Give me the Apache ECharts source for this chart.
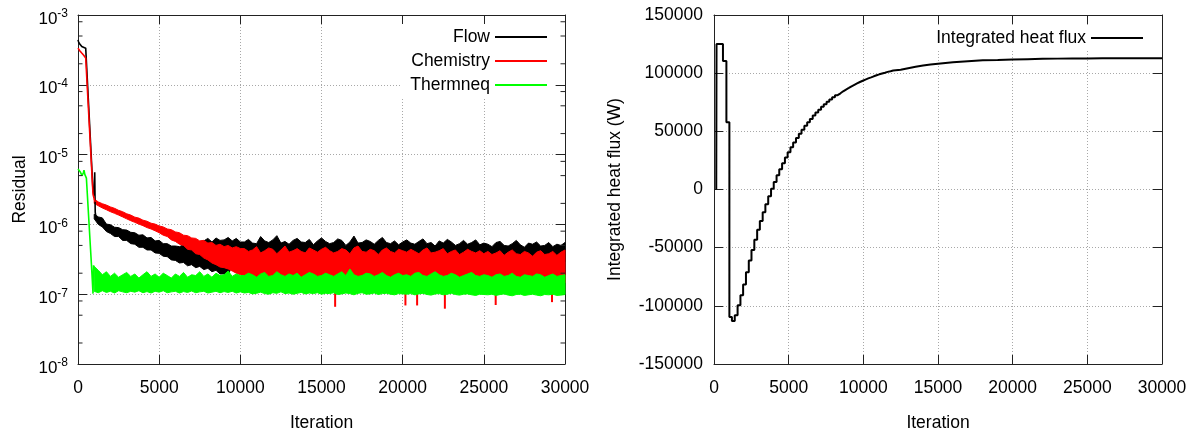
<!DOCTYPE html>
<html><head><meta charset="utf-8">
<script src="https://cdn.jsdelivr.net/npm/echarts@6/dist/echarts.min.js"></script>
<style>html,body{margin:0;padding:0;background:#fff}#c{width:1195px;height:437px}</style>
</head><body><div id="c"></div>
<script>
// ---------- data (residual values in units of 1e-7) ----------
const UNIT = 1e-7;
const bandIter = [1000,1250,1500,1750,2000,2250,2500,2750,3000,3250,3500,3750,4000,4250,4500,4750,5000,5250,5500,5750,6000,6250,6500,6750,7000,7250,7500,7750,8000,8250,8500,8750,9000,9250,9500,9750,10000,10250,10500,10750,11000,11250,11500,11750,12000,12250,12500,12750,13000,13250,13500,13750,14000,14250,14500,14750,15000,15250,15500,15750,16000,16250,16500,16750,17000,17250,17500,17750,18000,18250,18500,18750,19000,19250,19500,19750,20000,20250,20500,20750,21000,21250,21500,21750,22000,22250,22500,22750,23000,23250,23500,23750,24000,24250,24500,24750,25000,25250,25500,25750,26000,26250,26500,26750,27000,27250,27500,27750,28000,28250,28500,28750,29000,29250,29500,29750,30000];

const flowHi = [14,12.8,12.4,10.1,9.9,9.1,9.0,8.4,8.3,7.7,7.6,7.0,7.1,6.4,6.5,5.8,5.9,5.3,5.3,4.9,4.9,4.8,5.1,5.2,5.4,5.5,5.7,5.8,6.3,5.6,6.4,5.9,6.0,6.5,5.8,6.3,5.6,
 5.6,6.1,5.4,5.3,6.7,5.8,5.5,6.0,6.9,5.4,5.7,5.2,5.9,6.3,5.6,5.5,6.1,5.1,5.8,6.4,
 5.7,5.3,5.5,6.2,5.9,5.0,5.6,6.8,5.4,5.5,6.0,5.7,5.2,5.9,6.5,5.5,5.3,5.8,5.1,5.6,
 6.0,5.4,5.2,5.7,6.2,5.3,5.5,4.9,5.8,5.4,6.1,5.6,5.0,5.3,5.9,5.2,5.5,6.0,5.1,5.4,
 5.2,4.8,5.5,5.7,5.0,4.9,5.3,5.9,5.1,4.7,5.4,5.2,5.6,4.9,5.0,5.5,4.8,5.2,5.0,5.5];
const flowLo = [12,10.0,9.2,7.9,7.4,6.7,6.7,5.9,5.9,5.3,5.2,4.7,4.7,4.3,4.3,3.9,3.85,3.5,3.45,3.1,3.05,2.8,2.85,2.55,2.65,2.4,2.5,2.25,2.35,2.1,2.2,1.95,1.95,1.8,2.8,3.0,3.0,
 3.0,2.9,3.1,3.0,2.9,3.0,2.9,3.1,3.0,2.9,3.0,2.9,3.1,3.0,2.9,3.0,2.9,3.1,3.0,2.9,
 3.0,2.9,3.1,3.0,2.9,3.0,2.9,3.1,3.0,2.9,3.0,2.9,3.1,3.0,2.9,3.0,2.9,3.1,3.0,2.9,
 3.0,2.9,3.1,3.0,2.9,3.0,2.9,3.1,3.0,2.9,3.0,2.9,3.1,3.0,2.9,3.0,2.9,3.1,3.0,2.9,
 3.0,2.9,3.1,3.0,2.9,3.0,2.9,3.1,3.0,2.9,3.0,2.9,3.1,3.0,2.9,3.0,2.9,3.1,3.0,2.9];

const chemHi = [23,21,19.8,18.9,17.8,17.0,15.9,15.2,14.2,13.6,12.7,12.3,11.5,11.1,10.4,10.1,9.5,9.2,8.6,8.4,7.8,7.6,7.0,6.9,6.4,6.3,5.8,5.9,5.4,5.5,5.0,5.2,4.8,5.0,4.6,4.8,4.5,
 4.5,4.1,4.3,4.8,3.9,4.2,4.6,4.4,3.8,4.3,4.9,4.0,4.2,4.5,4.1,3.9,4.6,4.3,4.0,4.4,
 4.7,4.2,3.9,4.1,4.5,4.3,3.8,4.6,4.9,4.1,4.0,4.4,4.2,3.7,4.3,4.6,4.1,3.9,4.4,4.2,
 4.0,4.4,4.1,3.8,4.3,4.6,3.9,4.0,4.2,4.5,3.8,4.1,4.3,3.7,4.0,4.4,4.1,3.9,4.2,3.8,
 4.1,3.7,3.9,4.2,3.6,4.0,4.3,3.8,3.7,4.1,3.9,3.5,4.0,4.2,3.7,3.8,4.1,3.6,4.0,4.3];
const chemLo = [20,18.5,17.2,16.2,15.2,14.4,13.6,12.8,12.0,11.3,10.7,10.1,9.6,9.0,8.6,8.1,
 7.6,7.0,6.7,6.0,5.7,5.2,5.0,4.4,4.3,3.8,3.7,3.3,3.1,2.8,2.65,2.45,2.4,2.3,2.15,2.0,1.9,
 1.8,1.7,1.65,1.6,1.55,1.5,1.45,1.5,1.55,1.45,1.5,1.45,1.5,1.55,1.45,1.5,1.45,1.5,1.55,1.45,
 1.5,1.45,1.5,1.55,1.45,1.5,1.45,1.5,1.55,1.45,1.5,1.45,1.5,1.55,1.45,1.5,1.45,1.5,1.55,1.45,
 1.5,1.45,1.5,1.55,1.45,1.5,1.45,1.5,1.55,1.45,1.5,1.45,1.5,1.55,1.45,1.5,1.45,1.5,1.55,1.45,
 1.5,1.45,1.5,1.55,1.45,1.5,1.45,1.5,1.55,1.45,1.5,1.45,1.5,1.55,1.45,1.5,1.45,1.5,1.55,1.45];

const thermHi = [2.5,2.2,1.9,2.1,1.8,2.0,1.75,1.9,2.05,1.8,1.95,1.7,1.9,2.1,1.8,1.95,1.75,2.0,1.85,1.7,1.95,1.8,2.05,1.75,1.9,1.85,2.1,1.8,1.95,1.75,2.0,1.85,1.9,2.15,1.8,1.95,1.85,
 1.85,2.0,1.9,1.75,1.95,2.05,1.8,1.85,2.1,1.9,1.8,1.95,1.85,2.0,1.75,1.9,2.05,1.95,1.8,1.85,
 2.0,1.9,1.8,1.95,2.1,1.85,2.3,1.9,1.8,1.85,2.0,1.95,1.8,1.9,2.05,1.85,1.75,1.9,2.0,1.85,
 1.9,1.8,2.0,2.05,1.85,1.8,1.95,2.1,1.9,1.8,1.85,2.0,1.9,1.75,1.85,1.95,2.05,1.85,1.8,1.9,
 1.85,1.75,1.9,1.95,1.8,1.85,2.0,1.8,1.75,1.9,1.85,1.8,1.95,1.9,1.75,1.85,1.95,1.8,1.85,1.9];
const thermLo = [1.1,1.05,1.12,1.06,1.1,1.04,1.12,1.08,1.05,1.1,1.07,1.12,1.05,1.09,1.04,1.1,1.07,1.12,1.05,1.08,1.1,1.04,1.09,1.06,1.11,1.05,1.08,1.1,1.04,1.07,1.1,1.05,1.09,1.06,1.1,1.04,1.08,
 1.04,1.06,1.01,1.03,1.07,1.02,1.0,1.05,1.03,1.08,1.02,1.04,1.0,1.03,1.06,1.01,1.04,1.02,1.05,1.0,
 1.03,1.02,1.05,0.99,1.01,1.04,1.02,0.98,1.03,1.05,1.0,1.01,1.04,0.99,1.02,1.03,1.0,0.98,1.02,1.01,
 1.0,1.02,0.98,1.01,1.03,0.99,0.97,1.01,1.02,0.98,1.0,1.03,0.99,0.97,1.0,1.01,0.98,0.96,1.0,0.99,
 0.98,1.0,0.96,0.99,1.01,0.97,0.95,0.99,1.0,0.96,0.98,1.0,0.97,0.95,0.99,0.98,1.0,0.96,0.97,0.99];

// early (pre-noise) part of each residual
const flowEarlyIter = [0,40,120,230,350,475,925,1000,1030,1060,1100];
const flowEarlyVal  = [4400,4100,3800,3550,3450,3350,30,26,56,15,13];
const chemEarlyIter = [0,40,120,230,350,475,925,1000,1070];
const chemEarlyVal  = [3350,3250,3050,2850,2650,2420,27,23,21];
const thermEarlyIter = [0,60,130,250,330,370,420,517,830,880,925,960,1000];
const thermEarlyVal  = [62,60,57,50,55,60,52,46,2.6,1.6,1.02,2.6,2.2];
// isolated downward spikes of the Chemistry residual
const chemDipIter = [15840,20170,20890,22600,25730,29200];
const chemDipVal  = [0.66,0.69,0.69,0.62,0.70,0.77];

// minor ticks of the log axis
const residualMinorTicks = [2e-8,5e-8,8e-8,2e-7,5e-7,8e-7,2e-6,5e-6,8e-6,2e-5,5e-5,8e-5,2e-4,5e-4,8e-4];

// integrated heat flux (W)
const hfIter = [150,170,600,830,1030,1200,1390,1580,1770,1950,2140,2330,2510,2700,2890,3070,3260,3440,3630,3820,4000,4190,4370,4560,4750,4930,5120,5300,5490,5680,5860,6050,6240,6420,6610,6790,6980,7170,7350,7540,7720,7910,8100,8280,8470,8650,8840,9030,9210,9400,9580,9770,9960,10140,10330,10520,10700,10890,11070,11260,11450,11630,11820,12000,12500,13000,13500,14000,14500,15000,15500,16000,16500,17000,17500,18000,19000,20000,21000,22000,23000,24000,25000,26000,27000,28000,29000,30000];
const hfValue = [0,125000,110500,57900,-109700,-113000,-108000,-99500,-91000,-81700,-71100,-61100,-52100,-43200,-34700,-27100,-19500,-12600,-5800,700,6500,12200,17400,22600,27500,32000,36400,40300,44300,48000,51300,54700,57900,60700,63600,66100,68600,71100,73200,75400,77300,79300,81100,82700,84400,85900,87300,88700,90000,91200,92400,93500,94500,95500,96400,97300,98200,99000,99700,100400,101100,101700,102300,102900,104300,105500,106500,107400,108100,108800,109400,109900,110300,110700,111000,111300,111700,112000,112300,112500,112600,112700,112800,112800,112900,112900,112900,113000];

// ---------- chart ----------
const FONT = '"Liberation Sans", Arial, Helvetica, sans-serif';
const AX = '#222';
const C_FLOW = '#000000', C_CHEM = '#ff0000', C_THERM = '#00ff00';

function bandSeries(name, color, lo, hi) {
  return {
    type: 'custom', name: name, xAxisIndex: 0, yAxisIndex: 0, silent: true,
    itemStyle: { color: color },
    data: bandIter.map((x, i) => [x, lo[i] * UNIT, hi[i] * UNIT]),
    encode: { x: 0, y: [1, 2] },
    renderItem: function (params, api) {
      if (params.dataIndex !== 0) return null;
      const top = [], bot = [];
      for (let i = 0; i < bandIter.length; i++) {
        top.push(api.coord([bandIter[i], hi[i] * UNIT]));
        bot.push(api.coord([bandIter[i], lo[i] * UNIT]));
      }
      return { type: 'polygon', shape: { points: top.concat(bot.reverse()) },
               style: { fill: color, stroke: color, lineWidth: 1 } };
    }
  };
}
function earlyLine(name, color, it, val) {
  return { type: 'line', name: name, xAxisIndex: 0, yAxisIndex: 0, showSymbol: false, silent: true,
    itemStyle: { color: color }, lineStyle: { color: color, width: 1.6 },
    data: it.map((x, i) => [x, val[i] * UNIT]) };
}

const labelStyle = { fontSize: 17.5, fontFamily: FONT, color: '#000' };
const split = { show: true, lineStyle: { color: '#a8a8a8', type: [1, 2], width: 1 } };
const line = { show: true, onZero: false, lineStyle: { color: AX, width: 1 } };
const tick = { show: true, inside: true, length: 9, lineStyle: { color: AX, width: 1 } };

function xAx(grid, pos, main) {
  return { gridIndex: grid, type: 'value', min: 0, max: 30000, interval: 5000, position: pos,
    axisLine: line, axisTick: tick,
    axisLabel: main ? Object.assign({ margin: 15, formatter: v => String(v) }, labelStyle) : { show: false },
    splitLine: main ? split : { show: false },
    name: main ? 'Iteration' : '', nameLocation: 'middle', nameGap: 50, nameTextStyle: labelStyle };
}

const option = {
  animation: false,
  backgroundColor: '#fff',
  textStyle: { fontFamily: FONT },
  grid: [
    { left: 78, top: 15, width: 487, height: 351 },
    { left: 714, top: 15, width: 448, height: 351 }
  ],
  xAxis: [xAx(0, 'bottom', true), xAx(0, 'top', false), xAx(1, 'bottom', true), xAx(1, 'top', false)],
  yAxis: [
    { gridIndex: 0, type: 'log', logBase: 10, min: 1e-8, max: 1e-3, position: 'left',
      axisLine: line, axisTick: tick, splitLine: split,
      axisLabel: { margin: 10, padding: [8, 0, 0, 0],
        formatter: v => '{b|10}{s|' + Math.round(Math.log10(v)) + '}',
        rich: { b: { fontSize: 17, fontFamily: FONT, color: '#000' },
                s: { fontSize: 12, fontFamily: FONT, color: '#000', padding: [0, 0, 10, 0] } } },
      name: 'Residual', nameLocation: 'middle', nameGap: 49, nameRotate: 90, nameTextStyle: labelStyle },
    { gridIndex: 0, type: 'log', logBase: 10, min: 1e-8, max: 1e-3, position: 'right',
      axisLine: line, axisTick: tick, splitLine: { show: false }, axisLabel: { show: false } },
    { gridIndex: 1, type: 'value', min: -150000, max: 150000, interval: 50000, position: 'left',
      axisLine: line, axisTick: tick, splitLine: split,
      axisLabel: Object.assign({ margin: 11, formatter: v => String(v) }, labelStyle),
      name: 'Integrated heat flux (W)', nameLocation: 'middle', nameGap: 90, nameRotate: 90, nameTextStyle: labelStyle },
    { gridIndex: 1, type: 'value', min: -150000, max: 150000, interval: 50000, position: 'right',
      axisLine: line, axisTick: tick, splitLine: { show: false }, axisLabel: { show: false } }
  ],
  legend: [
    { orient: 'vertical', align: 'right', right: 640, top: 24, padding: [4, 8, 4, 10],
      itemWidth: 52, itemHeight: 2, itemGap: 6, selectedMode: false, backgroundColor: '#fff',
      textStyle: labelStyle,
      data: [ { name: 'Flow', icon: 'rect', itemStyle: { color: C_FLOW } },
              { name: 'Chemistry', icon: 'rect', itemStyle: { color: C_CHEM } },
              { name: 'Thermneq', icon: 'rect', itemStyle: { color: C_THERM } } ] },
    { orient: 'vertical', align: 'right', right: 35, top: 25, padding: [4, 17, 3, 10],
      itemWidth: 52, itemHeight: 2, selectedMode: false, backgroundColor: '#fff',
      textStyle: labelStyle,
      data: [ { name: 'Integrated heat flux', icon: 'rect', itemStyle: { color: '#000' } } ] }
  ],
  series: [
    bandSeries('Flow', C_FLOW, flowLo, flowHi),
    earlyLine('Flow', C_FLOW, flowEarlyIter, flowEarlyVal),
    bandSeries('Chemistry', C_CHEM, chemLo, chemHi),
    earlyLine('Chemistry', C_CHEM, chemEarlyIter, chemEarlyVal),
    { type: 'custom', name: 'Chemistry', xAxisIndex: 0, yAxisIndex: 0, silent: true,
      itemStyle: { color: C_CHEM },
      data: chemDipIter.map((x, i) => [x, chemDipVal[i] * UNIT]),
      renderItem: function (params, api) {
        const a = api.coord([api.value(0), 1.2e-7]);
        const b = api.coord([api.value(0), api.value(1)]);
        return { type: 'line', shape: { x1: a[0], y1: a[1], x2: b[0], y2: b[1] },
                 style: { stroke: C_CHEM, lineWidth: 2 } };
      } },
    bandSeries('Thermneq', C_THERM, thermLo, thermHi),
    earlyLine('Thermneq', C_THERM, thermEarlyIter, thermEarlyVal),
    { type: 'custom', xAxisIndex: 0, yAxisIndex: 0, silent: true, z: 5,
      data: residualMinorTicks.map(v => [0, v]),
      renderItem: function (params, api) {
        const v = api.value(1);
        const l = api.coord([0, v]), r = api.coord([30000, v]);
        return { type: 'group', children: [
          { type: 'line', shape: { x1: l[0], y1: l[1], x2: l[0] + 4.5, y2: l[1] }, style: { stroke: AX, lineWidth: 1 } },
          { type: 'line', shape: { x1: r[0] - 4.5, y1: r[1], x2: r[0], y2: r[1] }, style: { stroke: AX, lineWidth: 1 } } ] };
      } },
    { type: 'line', name: 'Integrated heat flux', xAxisIndex: 2, yAxisIndex: 2, step: 'end',
      showSymbol: false, silent: true, itemStyle: { color: '#000' },
      lineStyle: { color: '#000', width: 2 },
      data: hfIter.map((x, i) => [x, hfValue[i]]) }
  ]
};
const chart = echarts.init(document.getElementById('c'));
chart.setOption(option);
</script></body></html>
